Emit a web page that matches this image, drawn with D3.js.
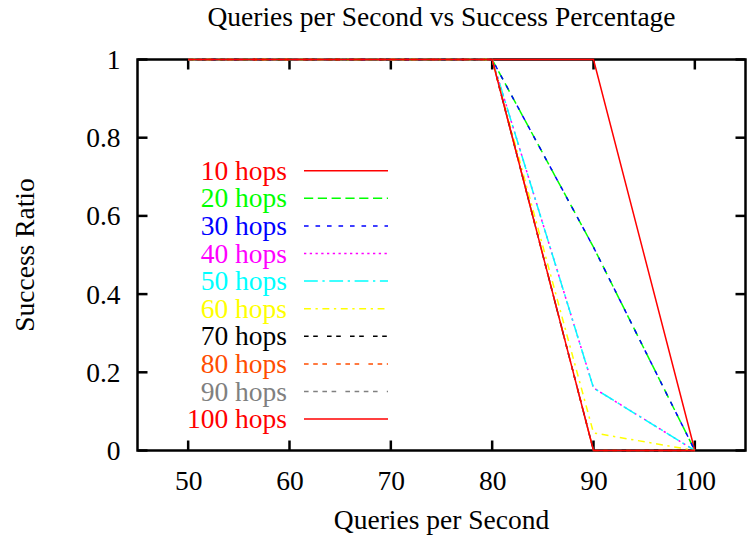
<!DOCTYPE html>
<html>
<head>
<meta charset="utf-8">
<script src="https://cdn.jsdelivr.net/npm/d3@7"></script>
<style>
  html, body { margin: 0; padding: 0; background: #fff; }
  svg { display: block; }
  text { font-family: "Liberation Serif", "Times New Roman", serif; font-size: 27.5px; }
</style>
</head>
<body>
<svg id="chart" width="750" height="539"></svg>
<script>
// Queries per second sampled on the x axis
const qps = [50, 60, 70, 80, 90, 100];

// Success ratio for each hop limit
const hops10  = [1, 1, 1, 1, 1, 0];
const hops20  = [1, 1, 1, 1, 0.52, 0];
const hops30  = [1, 1, 1, 1, 0.52, 0];
const hops40  = [1, 1, 1, 1, 0.16, 0];
const hops50  = [1, 1, 1, 1, 0.16, 0];
const hops60  = [1, 1, 1, 1, 0.045, 0];
const hops70  = [1, 1, 1, 1, 0, 0];
const hops80  = [1, 1, 1, 1, 0, 0];
const hops90  = [1, 1, 1, 1, 0, 0];
const hops100 = [1, 1, 1, 1, 0, 0];

const seriesNames = ["10 hops", "20 hops", "30 hops", "40 hops", "50 hops",
                     "60 hops", "70 hops", "80 hops", "90 hops", "100 hops"];
const seriesValues = [hops10, hops20, hops30, hops40, hops50,
                      hops60, hops70, hops80, hops90, hops100];

const xTicks = [50, 60, 70, 80, 90, 100];
const yTicks = [0, 0.2, 0.4, 0.6, 0.8, 1];
const yTickLabels = ["0", "0.2", "0.4", "0.6", "0.8", "1"];

// Line styles in the classic postscript palette
const colors = ["#ff0000", "#00ff00", "#0000ff", "#ff00ff", "#00ffff",
                "#ffff00", "#000000", "#ff4d00", "#808080", "#ff0000"];
const unit = 2.3;
const dashUnits = [null, [4, 2], [2, 3], [1, 1.5], [6, 2, 1, 2], [3, 2, 1, 2],
                   [2, 2, 2, 4], [2, 2, 2, 2, 2, 4], [2, 2, 2, 2, 2, 2, 2, 4], null];
const dashes = dashUnits.map(d => d ? d.map(v => v * unit).join(",") : null);

const svg = d3.select("#chart");
const plotL = 137.5, plotR = 745.5, plotT = 59.5, plotB = 450.5;
const fontSize = "27.5px";

const x = d3.scaleLinear().domain([45, 105]).range([plotL, plotR]);
const y = d3.scaleLinear().domain([0, 1]).range([plotB, plotT]);

// Title
svg.append("text")
  .attr("x", (plotL + plotR) / 2).attr("y", 26)
  .attr("text-anchor", "middle")
  .text("Queries per Second vs Success Percentage");

// Frame
svg.append("rect")
  .attr("x", plotL).attr("y", plotT)
  .attr("width", plotR - plotL).attr("height", plotB - plotT)
  .attr("fill", "none").attr("stroke", "#000").attr("stroke-width", 2.5);

const tickLen = 10;
// X ticks (bottom and mirrored on top)
const xAxisBottom = d3.axisBottom(x).tickValues(xTicks).tickSize(0).tickFormat(d3.format("d"));
const gxb = svg.append("g").attr("transform", `translate(0,${plotB})`).call(xAxisBottom);
gxb.select(".domain").remove();
gxb.selectAll("text").attr("dy", null).attr("y", 39).style("font-size", fontSize)
  .attr("font-family", "Liberation Serif").attr("fill", "#000");

svg.append("g").selectAll("line").data(xTicks).join("line")
  .attr("x1", d => x(d)).attr("x2", d => x(d))
  .attr("y1", plotB).attr("y2", plotB - tickLen)
  .attr("stroke", "#000").attr("stroke-width", 2.5);
svg.append("g").selectAll("line").data(xTicks).join("line")
  .attr("x1", d => x(d)).attr("x2", d => x(d))
  .attr("y1", plotT).attr("y2", plotT + tickLen)
  .attr("stroke", "#000").attr("stroke-width", 2.5);

// Y ticks (left and mirrored on right)
const yAxisLeft = d3.axisLeft(y).tickValues(yTicks).tickSize(0)
  .tickFormat((d, i) => yTickLabels[i]);
const gyl = svg.append("g").attr("transform", `translate(${plotL},0)`).call(yAxisLeft);
gyl.select(".domain").remove();
gyl.selectAll("text").attr("x", -17).attr("dy", "0.33em").style("font-size", fontSize)
  .attr("font-family", "Liberation Serif").attr("fill", "#000");

svg.append("g").selectAll("line").data(yTicks).join("line")
  .attr("x1", plotL).attr("x2", plotL + tickLen)
  .attr("y1", d => y(d)).attr("y2", d => y(d))
  .attr("stroke", "#000").attr("stroke-width", 2.5);
svg.append("g").selectAll("line").data(yTicks).join("line")
  .attr("x1", plotR).attr("x2", plotR - tickLen)
  .attr("y1", d => y(d)).attr("y2", d => y(d))
  .attr("stroke", "#000").attr("stroke-width", 2.5);

// Axis titles
svg.append("text")
  .attr("x", (plotL + plotR) / 2).attr("y", 529)
  .attr("text-anchor", "middle")
  .text("Queries per Second");
svg.append("text")
  .attr("transform", `translate(34,${(plotT + plotB) / 2}) rotate(-90)`)
  .attr("text-anchor", "middle")
  .text("Success Ratio");

// Series lines
const line = d3.line().x(d => x(d[0])).y(d => y(d[1]));
seriesValues.forEach((vals, i) => {
  svg.append("path")
    .datum(qps.map((q, j) => [q, vals[j]]))
    .attr("d", line)
    .attr("fill", "none")
    .attr("stroke", colors[i])
    .attr("stroke-width", 1.5)
    .attr("stroke-dasharray", dashes[i]);
});

// Legend
const legX = 287, legLineX1 = 304, legLineX2 = 388, legY0 = 170.7, legStep = 27.6;
seriesNames.forEach((name, i) => {
  const yy = legY0 + i * legStep;
  svg.append("text")
    .attr("x", legX).attr("y", yy).attr("dy", "0.33em")
    .attr("text-anchor", "end")
    .attr("fill", colors[i])
    .text(name);
  svg.append("line")
    .attr("x1", legLineX1).attr("x2", legLineX2)
    .attr("y1", yy).attr("y2", yy)
    .attr("stroke", colors[i]).attr("stroke-width", 1.5)
    .attr("stroke-dasharray", dashes[i]);
});
</script>
</body>
</html>
